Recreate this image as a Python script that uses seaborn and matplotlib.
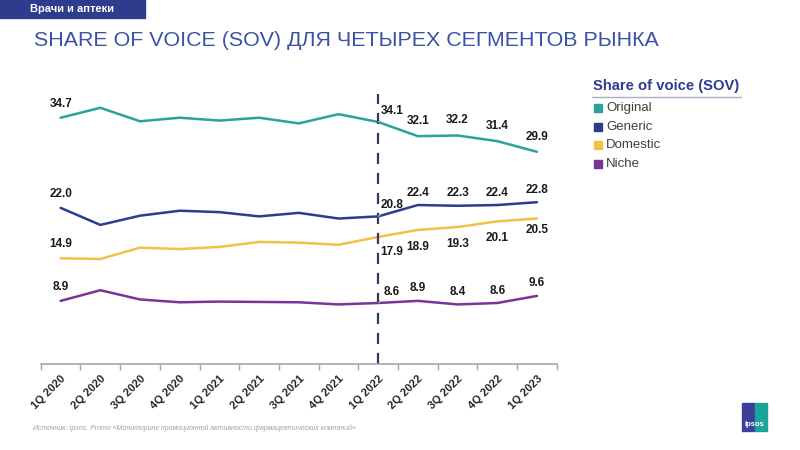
import pandas as pd
import numpy as np
import matplotlib
matplotlib.use("Agg")
import matplotlib.pyplot as plt
import seaborn as sns
from matplotlib.patches import Rectangle

# Data
quarters = ['1Q 2020', '2Q 2020', '3Q 2020', '4Q 2020', '1Q 2021', '2Q 2021', '3Q 2021',
            '4Q 2021', '1Q 2022', '2Q 2022', '3Q 2022', '4Q 2022', '1Q 2023']
original = [34.7, 36.1, 34.2, 34.7, 34.3, 34.7, 33.9, 35.2, 34.1, 32.1, 32.2, 31.4, 29.9]
generic = [22.0, 19.6, 20.9, 21.6, 21.4, 20.8, 21.3, 20.5, 20.8, 22.4, 22.3, 22.4, 22.8]
domestic = [14.9, 14.8, 16.4, 16.2, 16.5, 17.2, 17.1, 16.8, 17.9, 18.9, 19.3, 20.1, 20.5]
niche = [8.9, 10.4, 9.1, 8.7, 8.8, 8.75, 8.7, 8.4, 8.6, 8.9, 8.4, 8.6, 9.6]
segments = ['Original', 'Generic', 'Domestic', 'Niche']
labelled = [0, 8, 9, 10, 11, 12]

colors = {'Original': '#2BA29C', 'Generic': '#2E3C8E', 'Domestic': '#F2C14A', 'Niche': '#7A3496'}

df = pd.DataFrame({'Quarter': quarters, 'Original': original, 'Generic': generic,
                   'Domestic': domestic, 'Niche': niche})
long = df.melt(id_vars='Quarter', var_name='Segment', value_name='SOV')

sns.set_style('white')
plt.rcParams['font.family'] = ['Liberation Sans', 'DejaVu Sans']

fig = plt.figure(figsize=(8, 4.5), dpi=100)
ax = fig.add_axes([0.051, 0.191, 0.645, 0.631])

sns.lineplot(data=long, x='Quarter', y='SOV', hue='Segment', hue_order=segments,
             palette=colors, linewidth=1.8, sort=False, legend=False, ax=ax)

ax.set_xlim(-0.5, 12.5)
ax.set_ylim(0, 40)
ax.set_xlabel('')
ax.set_ylabel('')
ax.set_yticks([])
for s in ['top', 'right', 'left']:
    ax.spines[s].set_visible(False)
ax.spines['bottom'].set_color('#a6a6a6')
ax.spines['bottom'].set_linewidth(1.2)

ax.set_xticks(range(len(quarters)))
ax.set_xticklabels(quarters, rotation=45, ha='right', rotation_mode='anchor',
                   fontsize=8, fontweight='bold', color='#262626')
ax.tick_params(axis='x', which='major', length=0, pad=7)
ax.set_xticks(np.arange(-0.5, 13, 1), minor=True)
ax.tick_params(axis='x', which='minor', bottom=True, length=4, color='#a6a6a6',
               width=1, direction='out')

# Dashed marker at 1Q 2022
ax.axvline(8, ymin=0, ymax=0.95, color='#2B3A67', linestyle=(0, (5, 4)), linewidth=1.6)

# Value labels
offsets = {'Original': 11, 'Generic': 9, 'Domestic': -12, 'Niche': 9}
lab_kw = dict(textcoords='offset points', ha='center', va='center',
              fontsize=8.5, fontweight='bold', color='#1a1a1a')
for seg in segments:
    vals = df[seg].tolist()
    for i in labelled:
        v = vals[i]
        if i == 0:
            ax.annotate(f'{v:.1f}', (i, v), xytext=(0, 10), **lab_kw)
        elif i == 8:
            dy = -11 if seg == 'Domestic' else 8
            ax.annotate(f'{v:.1f}', (i, v), xytext=(10, dy), **lab_kw,
                        arrowprops=dict(arrowstyle='-', color='#bfbfbf', lw=0.7,
                                        shrinkA=0, shrinkB=5))
        else:
            dy = offsets[seg]
            if seg == 'Domestic' and i == 12:
                dy = -8
            ax.annotate(f'{v:.1f}', (i, v), xytext=(0, dy), **lab_kw)

# Title and header banner
fig.patches.append(Rectangle((0, 1 - 18 / 450), 145 / 800, 18 / 450,
                             transform=fig.transFigure, color='#2E3C8E', zorder=0))
fig.text(30 / 800, 1 - 9 / 450, 'Врачи и аптеки', color='white', fontsize=8,
         fontweight='bold', va='center', ha='left')
fig.text(34 / 800, 1 - 40 / 450, 'SHARE OF VOICE (SOV) ДЛЯ ЧЕТЫРЕХ СЕГМЕНТОВ РЫНКА',
         color='#3A52A4', fontsize=15.4, va='center', ha='left')

# Legend
fig.text(593 / 800, 1 - 86 / 450, 'Share of voice (SOV)', color='#2E3C8E', fontsize=10.6,
         fontweight='bold', va='center', ha='left')
fig.add_artist(plt.Line2D([592 / 800, 741 / 800], [1 - 97 / 450, 1 - 97 / 450],
                          transform=fig.transFigure, color='#a6b0c8', lw=1))
for k, seg in enumerate(segments):
    y = 1 - (108 + k * 18.7) / 450
    fig.patches.append(Rectangle((594 / 800, y - 4 / 450), 8 / 800, 8 / 450,
                                 transform=fig.transFigure, color=colors[seg]))
    fig.text(606 / 800, y, seg, color='#404040', fontsize=9.5, va='center', ha='left')

# Source note
fig.text(33 / 800, 1 - 428 / 450,
         'Источник: Ipsos, Promo «Мониторинг промоционной активности фармацевтических компаний»',
         color='#a0a0a0', fontsize=5, style='italic', va='center', ha='left')

# Logo
fig.patches.append(Rectangle((742 / 800, 1 - 431 / 450), 13 / 800, 28 / 450,
                             transform=fig.transFigure, color='#3B3F97'))
fig.patches.append(Rectangle((755 / 800, 1 - 431 / 450), 12 / 800, 28 / 450,
                             transform=fig.transFigure, color='#1AA39A'))
fig.text(754.5 / 800, 1 - 424 / 450, 'Ipsos', color='white', fontsize=5.5,
         fontweight='bold', va='center', ha='center')

fig.savefig('out.png', dpi=100)
